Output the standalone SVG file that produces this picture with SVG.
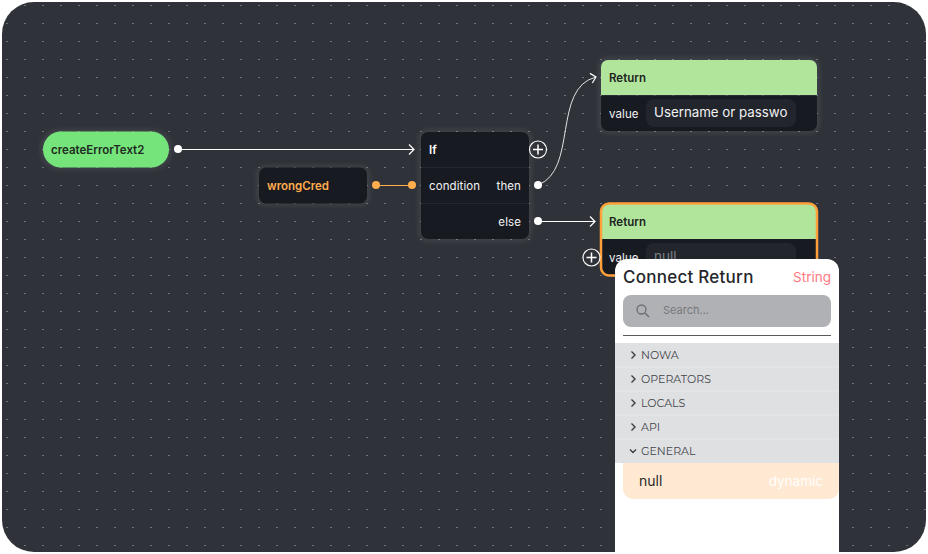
<svg xmlns="http://www.w3.org/2000/svg" width="928" height="554" viewBox="0 0 928 554">
<style>
text{font-family:Inter,"Liberation Sans",sans-serif}
.b{font-size:11.5px;font-weight:600}
.w{fill:#f2f2f3;font-size:11.5px;letter-spacing:.1px}
.hr{stroke:#25272e;stroke-width:1}
.c{fill:none;stroke:#fff;stroke-width:1}
.m{font-size:11px;fill:#44464b;font-family:Montserrat,Lato,"Open Sans",sans-serif}
.ch{fill:none;stroke:#3a3c40;stroke-width:1.4}
.halo{fill:#fff;opacity:.07;filter:url(#soft)}
</style>
<defs>
<filter id="soft" x="-20%" y="-20%" width="140%" height="140%"><feGaussianBlur stdDeviation="2"/></filter>
<pattern id="dots" width="18" height="18" patternUnits="userSpaceOnUse" x="6" y="5"><rect x="0" y="0" width="2" height="1" fill="#6d7075"/></pattern>
<clipPath id="bgc"><rect x="2" y="2" width="924" height="550" rx="32"/></clipPath>
<marker id="ah" markerWidth="10" markerHeight="12" refX="8" refY="6" orient="auto" markerUnits="userSpaceOnUse"><path d="M3 1 L8 6 L3 11" fill="none" stroke="#fff" stroke-width="1.2"/></marker>
<g id="plus"><circle r="8.5" fill="none" stroke="#fff" stroke-width="1.1"/><path d="M-5 0H5M0-5V5" stroke="#fff" stroke-width="1.5"/></g>
</defs>
<rect width="928" height="554" fill="#fff"/>
<rect x="2" y="2" width="924" height="550" rx="32" fill="#2f3339"/>
<rect x="2" y="2" width="924" height="550" rx="32" fill="url(#dots)"/>
<g id="connectors">
<path class="c" d="M178 149.500H414" marker-end="url(#ah)"/>
<path d="M376 185.500H412" fill="none" stroke="#ffad4d" stroke-width="1"/>
<path class="c" stroke-opacity=".85" d="M538 185C578 170 552 88 596 77" marker-end="url(#ah)"/>
<path class="c" d="M538 221.500H595" marker-end="url(#ah)"/>
</g>
<g id="node-createErrorText2">
<rect class="halo" x="40" y="129" width="132" height="41" rx="20"/>
<rect x="43" y="131.500" width="126" height="36" rx="18" fill="#75e47b"/>
<text class="b" x="51" y="154" fill="#1f2a22">createErrorText2</text>
<circle cx="178" cy="149" r="4" fill="#fff"/>
</g>
<g id="node-wrongCred">
<rect class="halo" x="256" y="165" width="114" height="41" rx="9"/>
<rect x="259" y="167.500" width="108" height="36" rx="7" fill="#181a21"/>
<text class="b" x="267" y="190" fill="#ffad4d">wrongCred</text>
<circle cx="376" cy="185" r="4" fill="#ffad4d"/>
</g>
<g id="node-if">
<rect class="halo" x="418" y="129" width="114" height="113" rx="9"/>
<rect x="421" y="132" width="108" height="107" rx="7" fill="#181a21"/>
<path class="hr" d="M421 167.500H529M421 203.500H529"/>
<text class="b" x="429" y="154" fill="#fff">If</text>
<text class="w" x="429" y="190">condition</text>
<text class="w" x="521" y="190" text-anchor="end">then</text>
<text class="w" x="521" y="226" text-anchor="end">else</text>
<circle cx="412" cy="185" r="4" fill="#ffad4d"/>
<use href="#plus" x="538" y="149.500"/>
<circle cx="538" cy="185" r="4" fill="#fff"/>
<circle cx="538" cy="221" r="4" fill="#fff"/>
</g>
<g id="node-return-1">
<rect class="halo" x="598" y="57" width="222" height="77" rx="9"/>
<path d="M601 95V67a7 7 0 0 1 7-7H810a7 7 0 0 1 7 7V95Z" fill="#b1e59c"/>
<path d="M601 95.500H817V124a7 7 0 0 1-7 7H608a7 7 0 0 1-7-7Z" fill="#181a21"/>
<text class="b" x="609" y="82" fill="#1d2420">Return</text>
<text class="w" x="609" y="118">value</text>
<rect x="646" y="99" width="150" height="28" rx="8" fill="#22252c"/>
<text x="654" y="117" font-size="13.300" fill="#f2f2f3">Username or passwo</text>
</g>
<g id="node-return-2">
<path d="M601 239V211a7 7 0 0 1 7-7H810a7 7 0 0 1 7 7V239Z" fill="#b1e59c"/>
<path d="M601 239H817V268a7 7 0 0 1-7 7H608a7 7 0 0 1-7-7Z" fill="#181a21"/>
<rect x="601" y="203.500" width="216" height="72" rx="8" fill="none" stroke="#ffa03a" stroke-width="2.500"/>
<text class="b" x="609" y="226" fill="#1d2420">Return</text>
<text class="w" x="609" y="262">value</text>
<rect x="646" y="243" width="150" height="28" rx="8" fill="#22252c"/>
<text x="654" y="261" font-size="13.500" fill="#7d8085" font-family="Roboto">null</text>
<use href="#plus" x="591.500" y="257.500"/>
</g>
<g id="panel" clip-path="url(#bgc)">
<path d="M615 554V271a12 12 0 0 1 12-12H827a12 12 0 0 1 12 12V554Z" fill="#fff"/>
<text x="623" y="283" font-size="17" font-weight="500" letter-spacing=".25" fill="#24262b">Connect Return</text>
<text x="831" y="282" font-size="13.500" text-anchor="end" fill="#ff7a80">String</text>
<rect x="623" y="295" width="208" height="32" rx="8" fill="#b0b1b4"/>
<circle cx="641.500" cy="309.500" r="4.500" fill="none" stroke="#6d6e72" stroke-width="1.300"/>
<path d="M645 313L649 317" stroke="#6d6e72" stroke-width="1.500"/>
<text x="663" y="314" font-size="11" fill="#77787c">Search...</text>
<path d="M623 335.500H831" stroke="#58595c" stroke-width="1"/>
<rect x="615" y="343" width="224" height="120" fill="#dfe0e2"/>
<path d="M615 367H839M615 391H839M615 415H839M615 439H839" stroke="#e6e7e8" stroke-width="1"/>
<path class="ch" d="M631.500 351.500L635 355L631.500 358.500M631.500 375.500L635 379L631.500 382.500M631.500 399.500L635 403L631.500 406.500M631.500 423.500L635 427L631.500 430.500M630 449.500L633 452.500L636 449.500"/>
<text class="m" x="641" y="359">NOWA</text>
<text class="m" x="641" y="383">OPERATORS</text>
<text class="m" x="641" y="407">LOCALS</text>
<text class="m" x="641" y="431">API</text>
<text class="m" x="641" y="455">GENERAL</text>
<path d="M623 463H839V489a10 10 0 0 1-10 10H633a10 10 0 0 1-10-10Z" fill="#ffe9d2"/>
<text x="639" y="486" font-size="14" font-family="Roboto" fill="#2a2a2c">null</text>
<text x="823" y="486" font-size="13.500" font-family="Roboto" text-anchor="end" fill="#fff">dynamic</text>
</g>
</svg>
